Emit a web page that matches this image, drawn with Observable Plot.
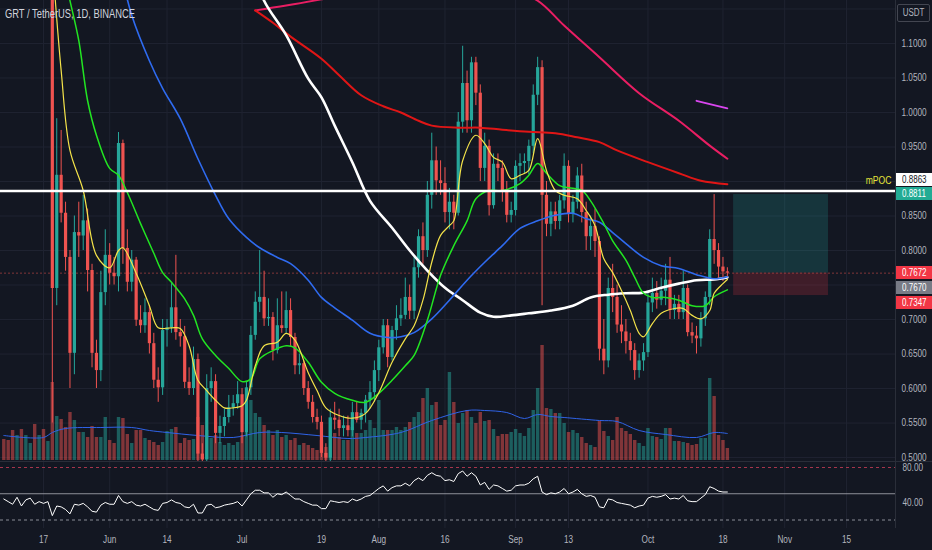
<!DOCTYPE html>
<html><head><meta charset="utf-8">
<script src="https://cdn.jsdelivr.net/npm/d3@7"></script>
<script src="https://cdn.jsdelivr.net/npm/@observablehq/plot@0.6"></script>
<style>
html,body{margin:0;padding:0;background:#131722;}
#wrap{position:relative;width:932px;height:550px;background:#131722;overflow:hidden;font-family:"Liberation Sans",Arial,sans-serif;}
.layer{position:absolute;left:0;}
.layer svg{display:block;}
.tag{position:absolute;left:896px;width:36px;height:13px;line-height:13px;text-align:center;font-size:10px;overflow:hidden;}
.tag span{display:inline-block;transform:scaleX(.8);}
</style></head>
<body><div id="wrap"></div>
<script>
// ---------- data ----------
const firstDay = "2021-05-08", lastDay = "2021-10-19";
const open = [
 1.62,1.58,1.52,1.40,1.48,1.24,1.33,1.40,1.22,1.26,
 1.20,1.25,0.745,0.909,0.854,0.790,0.651,0.826,0.821,0.843,
 0.771,0.651,0.626,0.739,0.793,0.767,0.762,0.955,0.803,0.754,
 0.786,0.699,0.691,0.710,0.665,0.612,0.601,0.684,0.688,0.717,
 0.681,0.675,0.609,0.600,0.642,0.505,0.497,0.600,0.610,0.535,
 0.545,0.558,0.572,0.578,0.591,0.536,0.601,0.677,0.725,0.732,
 0.701,0.703,0.655,0.691,0.687,0.713,0.674,0.633,0.636,0.600,
 0.580,0.558,0.551,0.506,0.499,0.557,0.554,0.542,0.546,0.539,
 0.565,0.554,0.564,0.583,0.594,0.626,0.659,0.691,0.645,0.684,
 0.701,0.706,0.732,0.712,0.775,0.820,0.800,0.880,0.930,0.901,
 0.897,0.855,0.870,0.854,0.986,1.042,0.988,1.072,1.028,0.919,
 0.951,0.865,0.925,0.919,0.886,0.851,0.858,0.922,0.926,0.929,
 0.951,1.025,1.065,0.880,0.838,0.856,0.842,0.872,0.922,0.852,
 0.870,0.908,0.855,0.820,0.835,0.813,0.657,0.640,0.745,0.732,
 0.692,0.682,0.668,0.655,0.626,0.640,0.652,0.724,0.738,0.728,
 0.741,0.757,0.713,0.722,0.710,0.745,0.681,0.676,0.672,0.701,
 0.732,0.816,0.800,0.776,0.769];
const high = [
 1.70,1.62,1.60,1.52,1.52,1.38,1.45,1.42,1.32,1.28,
 1.30,1.28,0.991,0.974,0.870,0.800,0.850,0.870,0.880,0.860,
 0.780,0.670,0.770,0.830,0.810,0.790,0.971,0.960,0.830,0.800,
 0.790,0.720,0.730,0.720,0.680,0.630,0.700,0.700,0.752,0.793,
 0.700,0.690,0.630,0.660,0.650,0.520,0.620,0.630,0.620,0.560,
 0.570,0.590,0.590,0.610,0.600,0.610,0.690,0.740,0.800,0.770,
 0.730,0.710,0.730,0.740,0.740,0.730,0.680,0.650,0.640,0.610,
 0.590,0.570,0.560,0.520,0.570,0.580,0.570,0.560,0.560,0.580,
 0.580,0.570,0.590,0.610,0.640,0.670,0.700,0.700,0.690,0.720,
 0.730,0.760,0.750,0.790,0.830,0.840,0.900,0.970,0.950,0.930,
 0.920,0.890,0.880,1.000,1.096,1.060,1.080,1.080,1.040,0.970,
 0.960,0.940,0.940,0.930,0.900,0.870,0.930,0.940,0.940,0.960,
 1.040,1.080,1.075,0.900,0.870,0.870,0.880,0.940,0.930,0.880,
 0.920,0.925,0.870,0.850,0.860,0.820,0.700,0.760,0.780,0.750,
 0.720,0.700,0.680,0.665,0.650,0.665,0.740,0.760,0.755,0.760,
 0.780,0.790,0.735,0.735,0.770,0.750,0.695,0.690,0.710,0.740,
 0.830,0.881,0.810,0.790,0.775];
const low = [
 1.55,1.45,1.35,1.36,1.20,1.18,1.30,1.20,1.18,1.18,
 1.19,0.55,0.720,0.840,0.770,0.600,0.620,0.790,0.800,0.740,
 0.630,0.600,0.610,0.720,0.750,0.750,0.740,0.780,0.740,0.740,
 0.690,0.680,0.680,0.650,0.600,0.580,0.590,0.660,0.680,0.670,
 0.660,0.600,0.590,0.590,0.480,0.450,0.490,0.580,0.520,0.520,
 0.530,0.550,0.560,0.570,0.520,0.530,0.590,0.670,0.710,0.690,
 0.690,0.640,0.650,0.680,0.680,0.660,0.620,0.620,0.590,0.570,
 0.550,0.540,0.500,0.490,0.490,0.540,0.530,0.530,0.530,0.530,
 0.550,0.540,0.550,0.570,0.580,0.610,0.650,0.630,0.640,0.670,
 0.690,0.700,0.700,0.700,0.760,0.780,0.790,0.860,0.880,0.880,
 0.840,0.830,0.830,0.850,0.970,0.970,0.970,1.010,0.900,0.900,
 0.850,0.860,0.900,0.870,0.840,0.840,0.850,0.900,0.910,0.910,
 0.940,1.010,0.720,0.820,0.820,0.830,0.830,0.860,0.840,0.840,
 0.860,0.840,0.800,0.800,0.790,0.640,0.620,0.630,0.710,0.680,
 0.665,0.650,0.640,0.612,0.615,0.625,0.645,0.710,0.715,0.720,
 0.720,0.700,0.700,0.700,0.700,0.675,0.665,0.650,0.660,0.690,
 0.720,0.780,0.760,0.755,0.760];
const close = [
 1.58,1.52,1.40,1.48,1.24,1.33,1.40,1.22,1.26,1.20,
 1.25,0.745,0.909,0.854,0.790,0.651,0.826,0.821,0.843,0.771,
 0.651,0.626,0.739,0.793,0.767,0.762,0.955,0.803,0.754,0.786,
 0.699,0.691,0.710,0.665,0.612,0.601,0.684,0.688,0.717,0.681,
 0.675,0.609,0.600,0.642,0.505,0.497,0.600,0.610,0.535,0.545,
 0.558,0.572,0.578,0.591,0.536,0.601,0.677,0.725,0.732,0.701,
 0.703,0.655,0.691,0.687,0.713,0.674,0.633,0.636,0.600,0.580,
 0.558,0.551,0.506,0.499,0.557,0.554,0.542,0.546,0.539,0.565,
 0.554,0.564,0.583,0.594,0.626,0.659,0.691,0.645,0.684,0.701,
 0.706,0.732,0.712,0.775,0.820,0.800,0.880,0.930,0.901,0.897,
 0.855,0.870,0.854,0.986,1.042,0.988,1.072,1.028,0.919,0.951,
 0.865,0.925,0.919,0.886,0.851,0.858,0.922,0.926,0.929,0.951,
 1.025,1.065,0.880,0.838,0.856,0.842,0.872,0.922,0.852,0.870,
 0.908,0.855,0.820,0.835,0.813,0.657,0.640,0.745,0.732,0.692,
 0.682,0.668,0.655,0.626,0.640,0.652,0.724,0.738,0.728,0.741,
 0.757,0.713,0.722,0.710,0.745,0.681,0.676,0.672,0.701,0.732,
 0.816,0.800,0.776,0.769,0.7672];
const volume = [ // millions GRT
 21,20,30,25,31,25,17,36,25,31,
 19,78,44,41,33,48,40,28,28,23,
 34,23,23,43,20,17,43,42,26,17,
 30,30,22,20,18,15,18,29,31,33,
 17,22,20,21,43,35,30,22,25,18,
 15,17,15,18,25,28,60,47,43,35,
 30,25,30,23,25,20,22,15,17,15,
 12,10,20,13,43,27,23,20,20,33,
 27,27,30,40,32,60,30,30,30,33,
 30,33,38,43,48,62,72,55,58,35,
 40,88,58,37,47,50,43,37,48,39,
 40,31,24,26,26,28,31,27,24,32,
 50,72,115,52,51,47,47,37,28,30,
 27,23,17,15,13,39,29,24,20,43,
 32,29,26,20,17,14,32,24,23,21,
 32,32,19,19,18,17,15,16,22,22,
 82,64,25,20,12];
const rsi = [
 44,41,38,46,36,43,45,38,41,39,
 41,25,36,35,32,27,38,37,39,35,
 30,29,37,40,38,38,48,41,39,41,
 37,36,38,35,32,31,39,40,43,40,
 39,35,34,38,28,28,37,38,34,35,
 37,38,39,41,36,43,50,54,54,51,
 51,46,50,49,52,48,44,44,41,39,
 37,37,33,33,42,41,40,41,40,44,
 42,44,47,48,52,56,59,53,57,59,
 59,62,59,65,68,65,71,74,71,70,
 65,66,64,73,76,70,74,70,60,63,
 55,60,59,56,53,54,59,60,60,62,
 67,70,52,49,51,50,52,56,50,52,
 55,50,47,48,46,35,34,44,43,40,
 39,38,37,34,36,37,45,47,46,47,
 49,44,45,44,48,42,41,41,45,49,
 58,56,53,52,52];

const maYellow = [["2021-05-19",1.22],["2021-05-21",1.061],["2021-05-23",0.945],["2021-05-26",0.887],["2021-05-29",0.793],["2021-06-01",0.775],["2021-06-03",0.80],["2021-06-04",0.804],["2021-06-07",0.767],["2021-06-10",0.72],["2021-06-12",0.688],["2021-06-15",0.688],["2021-06-17",0.687],["2021-06-19",0.662],["2021-06-21",0.612],["2021-06-23",0.597],["2021-06-25",0.583],["2021-06-27",0.572],["2021-06-29",0.572],["2021-07-01",0.575],["2021-07-02",0.583],["2021-07-04",0.633],["2021-07-06",0.662],["2021-07-09",0.667],["2021-07-11",0.680],["2021-07-13",0.670],["2021-07-16",0.623],["2021-07-18",0.597],["2021-07-20",0.572],["2021-07-23",0.561],["2021-07-26",0.557],["2021-07-29",0.564],["2021-08-01",0.594],["2021-08-04",0.638],["2021-08-07",0.672],["2021-08-09",0.691],["2021-08-11",0.728],["2021-08-13",0.783],["2021-08-15",0.822],["2021-08-17",0.836],["2021-08-18",0.843],["2021-08-20",0.930],["2021-08-23",0.967],["2021-08-25",0.955],["2021-08-27",0.935],["2021-08-29",0.928],["2021-08-31",0.904],["2021-09-02",0.909],["2021-09-04",0.916],["2021-09-06",0.962],["2021-09-08",0.916],["2021-09-10",0.887],["2021-09-12",0.880],["2021-09-15",0.875],["2021-09-17",0.858],["2021-09-19",0.836],["2021-09-21",0.788],["2021-09-23",0.768],["2021-09-25",0.742],["2021-09-27",0.713],["2021-09-29",0.680],["2021-09-30",0.675],["2021-10-02",0.694],["2021-10-04",0.709],["2021-10-07",0.716],["2021-10-09",0.716],["2021-10-11",0.706],["2021-10-13",0.701],["2021-10-15",0.713],["2021-10-16",0.738],["2021-10-18",0.752],["2021-10-19",0.758]];
const maGreen = [["2021-05-22",1.191],["2021-05-23",1.162],["2021-05-25",1.104],["2021-05-27",1.017],["2021-05-29",0.967],["2021-06-01",0.919],["2021-06-03",0.909],["2021-06-05",0.884],["2021-06-08",0.839],["2021-06-11",0.796],["2021-06-13",0.768],["2021-06-15",0.754],["2021-06-18",0.730],["2021-06-20",0.706],["2021-06-22",0.672],["2021-06-25",0.648],["2021-06-28",0.629],["2021-07-01",0.610],["2021-07-03",0.614],["2021-07-05",0.643],["2021-07-08",0.655],["2021-07-11",0.662],["2021-07-13",0.659],["2021-07-16",0.638],["2021-07-19",0.609],["2021-07-22",0.593],["2021-07-26",0.583],["2021-07-29",0.580],["2021-08-01",0.593],["2021-08-04",0.612],["2021-08-07",0.633],["2021-08-09",0.648],["2021-08-12",0.699],["2021-08-15",0.764],["2021-08-18",0.807],["2021-08-21",0.843],["2021-08-23",0.875],["2021-08-26",0.887],["2021-08-29",0.887],["2021-09-02",0.897],["2021-09-04",0.909],["2021-09-06",0.926],["2021-09-08",0.912],["2021-09-11",0.894],["2021-09-13",0.891],["2021-09-16",0.887],["2021-09-18",0.872],["2021-09-21",0.839],["2021-09-23",0.814],["2021-09-26",0.786],["2021-09-28",0.761],["2021-09-30",0.738],["2021-10-02",0.732],["2021-10-05",0.732],["2021-10-08",0.728],["2021-10-11",0.720],["2021-10-14",0.720],["2021-10-16",0.733],["2021-10-19",0.743]];
const maBlue = [["2021-06-04",1.191],["2021-06-06",1.141],["2021-06-10",1.075],["2021-06-13",1.035],["2021-06-17",0.991],["2021-06-21",0.933],["2021-06-25",0.880],["2021-06-28",0.846],["2021-07-02",0.819],["2021-07-05",0.804],["2021-07-09",0.790],["2021-07-12",0.781],["2021-07-16",0.757],["2021-07-19",0.732],["2021-07-22",0.717],["2021-07-26",0.699],["2021-07-30",0.680],["2021-08-03",0.674],["2021-08-06",0.675],["2021-08-09",0.681],["2021-08-13",0.701],["2021-08-17",0.728],["2021-08-21",0.757],["2021-08-25",0.783],["2021-08-29",0.807],["2021-09-02",0.832],["2021-09-06",0.843],["2021-09-10",0.851],["2021-09-14",0.854],["2021-09-17",0.846],["2021-09-20",0.841],["2021-09-23",0.826],["2021-09-26",0.810],["2021-09-30",0.790],["2021-10-04",0.778],["2021-10-08",0.774],["2021-10-12",0.765],["2021-10-16",0.759],["2021-10-19",0.762]];
const maWhite = [["2021-07-04",1.20],["2021-07-06",1.162],["2021-07-11",1.112],["2021-07-16",1.049],["2021-07-19",1.022],["2021-07-22",0.981],["2021-07-26",0.928],["2021-07-30",0.872],["2021-08-04",0.833],["2021-08-08",0.800],["2021-08-12",0.771],["2021-08-16",0.746],["2021-08-20",0.728],["2021-08-24",0.710],["2021-08-27",0.704],["2021-08-31",0.706],["2021-09-04",0.709],["2021-09-09",0.713],["2021-09-14",0.720],["2021-09-18",0.732],["2021-09-22",0.736],["2021-09-26",0.738],["2021-09-30",0.739],["2021-10-04",0.746],["2021-10-08",0.752],["2021-10-12",0.757],["2021-10-16",0.758],["2021-10-19",0.761]];
const maRed = [["2021-07-04",1.148],["2021-07-08",1.130],["2021-07-12",1.110],["2021-07-19",1.078],["2021-07-23",1.054],["2021-07-28",1.025],["2021-08-02",1.009],["2021-08-06",1.000],["2021-08-10",0.988],["2021-08-13",0.981],["2021-08-19",0.978],["2021-08-24",0.978],["2021-08-29",0.975],["2021-09-04",0.972],["2021-09-10",0.970],["2021-09-15",0.964],["2021-09-20",0.957],["2021-09-24",0.945],["2021-10-01",0.928],["2021-10-08",0.912],["2021-10-13",0.901],["2021-10-19",0.896]];
const maPink = [["2021-07-04",1.148],["2021-07-11",1.155],["2021-07-19",1.164],["2021-07-31",1.18],["2021-08-15",1.19],["2021-08-30",1.18],["2021-09-06",1.162],["2021-09-12",1.126],["2021-09-20",1.080],["2021-09-29",1.028],["2021-10-08",0.988],["2021-10-15",0.952],["2021-10-19",0.933]];
const maMagenta = [["2021-10-12",1.017],["2021-10-19",1.006]];
const volumeMA = [["2021-05-08",25],["2021-05-17",23],["2021-05-19",28],["2021-05-22",32],["2021-05-30",33],["2021-06-06",33],["2021-06-10",30],["2021-06-14",28],["2021-06-21",25],["2021-06-29",23],["2021-07-05",28],["2021-07-10",28],["2021-07-18",25],["2021-07-25",22],["2021-07-29",23],["2021-08-06",28],["2021-08-13",40],["2021-08-21",50],["2021-08-25",50],["2021-08-30",48],["2021-09-03",42],["2021-09-06",46],["2021-09-09",44],["2021-09-12",43],["2021-09-20",40],["2021-09-24",39],["2021-09-29",30],["2021-10-05",26],["2021-10-12",23],["2021-10-16",28],["2021-10-19",27]];

const priceGrid = [0.50,0.55,0.60,0.65,0.70,0.75,0.80,0.85,0.90,0.95,1.00,1.05,1.10,1.15];
// 0.75 and 0.90 sit under the price tags in the source, so they carry no label
const priceLabels = [0.50,0.55,0.60,0.65,0.70,0.80,0.85,0.95,1.00,1.05,1.10,1.15];
const rsiTicks = [40,80];
const tickDates = ["2021-05-17","2021-06-01","2021-06-14","2021-07-01","2021-07-19","2021-08-01","2021-08-16","2021-09-01","2021-09-13","2021-10-01","2021-10-18","2021-11-01","2021-11-15"];
const tickLabels = ["17","Jun","14","Jul","19","Aug","16","Sep","13","Oct","18","Nov","15"];

const mpoc = 0.8863;
const lastPrice = 0.7672;
const position = {start: "2021-10-20T10:00Z", end: "2021-11-10T22:00Z", entry: 0.7672, target: 0.8811, stop: 0.7347};
const priceTags = [
  {value: 0.8863, bg: "#ffffff", fg: "#131722", dy: -11},
  {value: 0.8811, bg: "#22ab94", fg: "#ffffff", dy: -1},
  {value: 0.7672, bg: "#f23645", fg: "#ffffff", dy: 0},
  {value: 0.7670, bg: "#787b86", fg: "#ffffff", dy: 14.5},
  {value: 0.7347, bg: "#f23645", fg: "#ffffff", dy: 7.5}
];

// ---------- build ----------
const UP = "#26a69a", DOWN = "#ef5350", GRID = "#1f2331", SEP = "#2a2e39";
const days = d3.utcDay.range(new Date(firstDay), d3.utcDay.offset(new Date(lastDay), 1));
const candles = days.map((date, i) => ({date, open: open[i], high: high[i], low: low[i], close: close[i], volume: volume[i], rsi: rsi[i]}));
const col = d => d.close >= d.open ? UP : DOWN;
const pts = arr => arr.map(([d, v]) => ({date: new Date(d), v}));
const tDates = tickDates.map(d => new Date(d));
const labelOf = new Map(tDates.map((d, i) => [+d, tickLabels[i]]));
const xDomain = [new Date("2021-05-07T06:06Z"), new Date("2021-11-26T02:33Z")];
const yDomain = [0.4928, 1.1623];
const FONT = '"Liberation Sans Narrow", "Liberation Sans", Arial, sans-serif';
const baseStyle = {background: "transparent", color: "#b2b5be", fontFamily: FONT, fontSize: "10px", overflow: "hidden"};
const common = {width: 932, marginLeft: 0, marginRight: 37, style: baseStyle, color: {type: "identity"}};

const wrap = document.getElementById("wrap");
function addLayer(el, top) { const d = document.createElement("div"); d.className = "layer"; d.style.top = top + "px"; d.appendChild(el); wrap.appendChild(d); return d; }

// layer A: grid + position tool
const layerA = Plot.plot({...common, height: 462, marginTop: 0, marginBottom: 0,
  x: {type: "utc", domain: xDomain, axis: null}, y: {domain: yDomain, axis: null},
  marks: [
    Plot.gridY(priceGrid, {stroke: GRID, strokeOpacity: 1}),
    Plot.gridX(tDates, {stroke: GRID, strokeOpacity: 1}),
    Plot.rect([position], {x1: d => new Date(d.start), x2: d => new Date(d.end), y1: "entry", y2: "target", fill: UP, fillOpacity: 0.22}),
    Plot.rect([position], {x1: d => new Date(d.start), x2: d => new Date(d.end), y1: "stop", y2: "entry", fill: "#f23645", fillOpacity: 0.2})
  ]});
addLayer(layerA, 0);

// layer B: volume
const layerB = Plot.plot({...common, height: 462, marginTop: 0, marginBottom: 2,
  x: {type: "utc", domain: xDomain, axis: null}, y: {domain: [0, 460], axis: null},
  marks: [
    Plot.ruleX(candles, {x: "date", y1: 0, y2: "volume", stroke: col, strokeOpacity: 0.5, strokeWidth: 3.4}),
    Plot.line(pts(volumeMA), {x: "date", y: "v", stroke: "#2f63e8", strokeWidth: 1, curve: "catmull-rom"})
  ]});
addLayer(layerB, 0);

// layer C: candles, MAs, axis
const maLine = (arr, stroke, w) => Plot.line(pts(arr), {x: "date", y: "v", stroke, strokeWidth: w, curve: "catmull-rom", clip: true});
const layerC = Plot.plot({...common, height: 462, marginTop: 0, marginBottom: 0,
  x: {type: "utc", domain: xDomain, axis: null}, y: {domain: yDomain, axis: null},
  marks: [
    Plot.ruleY([lastPrice], {stroke: DOWN, strokeOpacity: 0.5, strokeDasharray: "2,2"}),
    Plot.ruleX(candles, {x: "date", y1: "low", y2: "high", stroke: col, strokeWidth: 1, clip: true}),
    Plot.ruleX(candles, {x: "date", y1: "open", y2: "close", stroke: col, strokeWidth: 3.2, clip: true}),
    maLine(maPink, "#e91e63", 2),
    maLine(maRed, "#e01616", 2),
    maLine(maWhite, "#ffffff", 2.6),
    maLine(maBlue, "#2f6bf0", 1.6),
    maLine(maGreen, "#22e522", 1.5),
    maLine(maYellow, "#f5e44a", 1.2),
    maLine(maMagenta, "#d946ef", 1.8),
    Plot.ruleY([mpoc], {stroke: "#ffffff", strokeWidth: 2.4}),
    Plot.text([mpoc], {y: d => d, text: () => "mPOC", frameAnchor: "right", textAnchor: "end", dx: -4, dy: -10, fill: "#e4e43a", fontSize: 10.5}),
    Plot.ruleX([xDomain[1]], {stroke: SEP}),
    Plot.axisY(priceLabels, {anchor: "right", tickSize: 0, tickPadding: 6, label: null, tickFormat: d3.format(".4f")})
  ]});
addLayer(layerC, 0);

// RSI pane + time axis
const layerR = Plot.plot({...common, height: 88, marginTop: 0, marginBottom: 22,
  x: {type: "utc", domain: xDomain}, y: {domain: [10.29, 85.71]},
  marks: [
    Plot.gridX(tDates, {stroke: GRID, strokeOpacity: 1}),
    Plot.ruleY([80], {stroke: "#a8374d", strokeDasharray: "3,3"}),
    Plot.ruleY([20], {stroke: "#8a8d96", strokeDasharray: "3,3"}),
    Plot.ruleY([50], {stroke: "#a3a6ae", strokeOpacity: 0.85}),
    Plot.line(candles, {x: "date", y: "rsi", stroke: "#ffffff", strokeWidth: 1}),
    Plot.ruleX([xDomain[1]], {stroke: SEP}),
    Plot.axisY(rsiTicks, {anchor: "right", tickSize: 0, tickPadding: 7, label: null, tickFormat: d3.format(".2f")}),
    Plot.axisX(tDates, {anchor: "bottom", tickSize: 0, tickPadding: 7, label: null, tickFormat: d => labelOf.get(+d)})
  ]});
const rDiv = addLayer(layerR, 461);
rDiv.style.borderTop = "1px solid " + SEP;

// header + labels
const title = document.createElement("div");
title.textContent = "GRT / TetherUS, 1D, BINANCE";
title.style.cssText = "position:absolute;left:5px;top:6px;color:#d1d4dc;font-size:13px;transform:scaleX(.72);transform-origin:0 0;white-space:nowrap;";
wrap.appendChild(title);
const usdt = document.createElement("div");
usdt.innerHTML = "<span>USDT</span>";
usdt.style.cssText = "position:absolute;left:897px;top:4px;width:31px;height:16px;line-height:16px;border:1px solid #434651;border-radius:2px;background:#131722;color:#b2b5be;font-size:10px;text-align:center;";
usdt.firstChild.style.cssText = "display:inline-block;transform:scaleX(.8);";
wrap.appendChild(usdt);

const yScale = layerC.scale("y");
for (const t of priceTags) {
  const y = yScale.apply(t.value) + t.dy;
  const div = document.createElement("div");
  div.className = "tag";
  div.style.top = (y - 6.5) + "px";
  div.style.background = t.bg;
  div.style.color = t.fg;
  div.innerHTML = "<span>" + d3.format(".4f")(t.value) + "</span>";
  wrap.appendChild(div);
}

// narrow the svg glyphs like the source's compressed type
for (const t of wrap.querySelectorAll("svg text")) {
  const len = t.getComputedTextLength();
  if (len > 0) { t.setAttribute("textLength", (len * 0.82).toFixed(1)); t.setAttribute("lengthAdjust", "spacingAndGlyphs"); }
}
</script></body></html>
